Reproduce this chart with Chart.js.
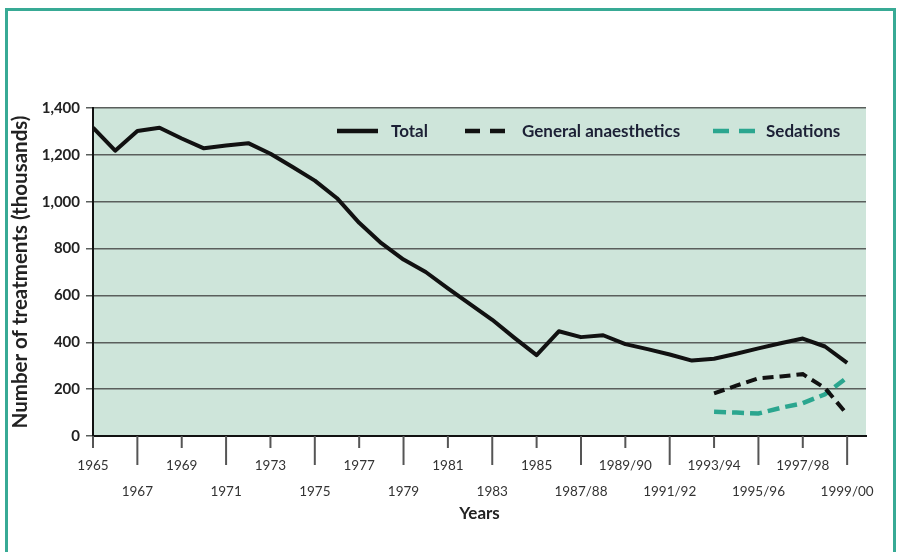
<!DOCTYPE html>
<html>
<head>
<meta charset="utf-8">
<script src="https://cdn.jsdelivr.net/npm/chart.js@4.4.1/dist/chart.umd.min.js"></script>
<style>
  html, body { margin: 0; padding: 0; background: #fff; }
  #wrap { position: relative; width: 899px; height: 552px; overflow: hidden; }
  #frame { position: absolute; left: 5px; top: 8px; width: 885px; height: 600px;
           border: 3px solid #38aa95; border-bottom: none; }
  canvas { position: absolute; left: 0; top: 0; }
</style>
</head>
<body>
<div id="wrap">
  <div id="frame"></div>
  <canvas id="treatmentsChart" width="899" height="552"></canvas>
</div>
<script>
// categories (one per year)
var years = ['1965', '1966', '1967', '1968', '1969', '1970', '1971', '1972', '1973', '1974',
  '1975', '1976', '1977', '1978', '1979', '1980', '1981', '1982', '1983', '1984',
  '1985', '1986', '1987/88', '1988/89', '1989/90', '1990/91', '1991/92', '1992/93',
  '1993/94', '1994/95', '1995/96', '1996/97', '1997/98', '1998/99', '1999/00'];

// series values (thousands)
var total = [1316, 1218, 1302, 1316, 1270, 1228, 1240, 1250, 1205, 1148,
  1090, 1015, 910, 823, 753, 700, 630, 563, 496, 419,
  345, 447, 422, 430, 392, 371, 348, 322,
  330, 351, 374, 396, 416, 382, 312];
var generalAnaesthetics = [null, null, null, null, null, null, null, null, null, null,
  null, null, null, null, null, null, null, null, null, null,
  null, null, null, null, null, null, null, null,
  182, 215, 246, 254, 264, 205, 92];
var sedations = [null, null, null, null, null, null, null, null, null, null,
  null, null, null, null, null, null, null, null, null, null,
  null, null, null, null, null, null, null, null,
  103, 100, 96, 120, 140, 178, 250];

// tick labels
var yTicks = [0, 200, 400, 600, 800, 1000, 1200, 1400];
var xTickLabels = ['1965', '1967', '1969', '1971', '1973', '1975', '1977', '1979', '1981',
  '1983', '1985', '1987/88', '1989/90', '1991/92', '1993/94', '1995/96', '1997/98', '1999/00'];

var fontFamily = "Lato, 'Noto Sans', 'Liberation Sans', sans-serif";
var teal = '#2ba68f';

function toPoints(arr) {
  return arr.map(function (v, i) { return { x: i, y: v }; });
}

// green plot background
var plotBackground = {
  id: 'plotBackground',
  beforeDraw: function (chart) {
    var a = chart.chartArea, ctx = chart.ctx;
    ctx.save();
    ctx.fillStyle = '#cee5da';
    ctx.fillRect(a.left, a.top, a.right - a.left, a.bottom - a.top);
    ctx.restore();
  }
};

// x tick marks, short for upper row labels, long for lower row labels
var xTickMarks = {
  id: 'xTickMarks',
  afterDraw: function (chart) {
    var x = chart.scales.x, ctx = chart.ctx, base = chart.chartArea.bottom;
    ctx.save();
    ctx.strokeStyle = '#555';
    ctx.lineWidth = 2;
    x.ticks.forEach(function (t, i) {
      var px = x.getPixelForValue(t.value);
      ctx.beginPath();
      ctx.moveTo(px, base);
      ctx.lineTo(px, base + (i % 2 === 0 ? 12 : 29));
      ctx.stroke();
    });
    ctx.restore();
  }
};

// legend drawn inside the plot, top right
var insideLegend = {
  id: 'insideLegend',
  afterDraw: function (chart) {
    var ctx = chart.ctx, a = chart.chartArea;
    var y = a.top + 23;
    var items = [
      { text: 'Total', x0: 337, x1: 378, tx: 391, color: '#111', dash: [] },
      { text: 'General anaesthetics', x0: 465, x1: 505, tx: 522, color: '#111', dash: [15, 10] },
      { text: 'Sedations', x0: 713, x1: 755, tx: 766, color: teal, dash: [16, 10] }
    ];
    ctx.save();
    ctx.font = 'bold 17px ' + fontFamily;
    ctx.textBaseline = 'middle';
    items.forEach(function (it) {
      ctx.beginPath();
      ctx.setLineDash(it.dash);
      ctx.strokeStyle = it.color;
      ctx.lineWidth = 4.5;
      ctx.moveTo(it.x0, y);
      ctx.lineTo(it.x1, y);
      ctx.stroke();
      ctx.setLineDash([]);
      ctx.fillStyle = '#1c2035';
      ctx.fillText(it.text, it.tx, y + 1);
    });
    ctx.restore();
  }
};

var ctx = document.getElementById('treatmentsChart').getContext('2d');
new Chart(ctx, {
  type: 'line',
  data: {
    datasets: [{
      label: 'Total',
      data: toPoints(total),
      borderColor: '#111',
      borderWidth: 4,
      borderJoinStyle: 'round',
      pointRadius: 0,
      tension: 0
    }, {
      label: 'General anaesthetics',
      data: toPoints(generalAnaesthetics),
      borderColor: '#111',
      borderWidth: 4,
      borderDash: [11, 6],
      pointRadius: 0,
      tension: 0
    }, {
      label: 'Sedations',
      data: toPoints(sedations),
      borderColor: teal,
      borderWidth: 4.5,
      borderDash: [12, 6],
      pointRadius: 0,
      tension: 0
    }]
  },
  options: {
    responsive: false,
    animation: false,
    layout: { padding: { top: 108, right: 33, left: 0, bottom: 0 } },
    plugins: {
      legend: { display: false },
      tooltip: { enabled: false }
    },
    scales: {
      x: {
        type: 'linear',
        min: 0,
        max: 34.85,
        afterBuildTicks: function (scale) {
          scale.ticks = xTickLabels.map(function (l, i) { return { value: i * 2 }; });
        },
        afterFit: function (scale) { scale.height = 116; },
        ticks: {
          autoSkip: false,
          maxRotation: 0,
          padding: 17,
          color: '#333',
          font: { family: fontFamily, size: 13.5, lineHeight: 1.93 },
          callback: function (value, index) {
            var label = xTickLabels[index];
            return index % 2 === 0 ? [label] : ['', label];
          }
        },
        grid: { drawOnChartArea: false, drawTicks: false },
        border: { display: true, color: '#111', width: 2 },
        title: {
          display: true,
          text: 'Years',
          color: '#222',
          font: { family: fontFamily, size: 17, weight: 'bold' },
          padding: { top: 0, bottom: 28 }
        }
      },
      y: {
        min: 0,
        max: 1400,
        afterBuildTicks: function (scale) {
          scale.ticks = yTicks.map(function (v) { return { value: v }; });
        },
        afterFit: function (scale) { scale.width = 93; },
        ticks: {
          padding: 6,
          color: '#222',
          font: { family: fontFamily, size: 15, weight: 'bold' },
          callback: function (v) { return v.toLocaleString('en-US'); }
        },
        grid: { color: '#5a5f5c', lineWidth: 1.5, tickLength: 7 },
        border: { display: true, color: '#111', width: 2 },
        title: {
          display: true,
          text: 'Number of treatments (thousands)',
          color: '#222',
          font: { family: fontFamily, size: 20.5, weight: 'bold' },
          padding: { top: 8, bottom: 0 }
        }
      }
    }
  },
  plugins: [plotBackground, xTickMarks, insideLegend]
});
</script>
</body>
</html>
